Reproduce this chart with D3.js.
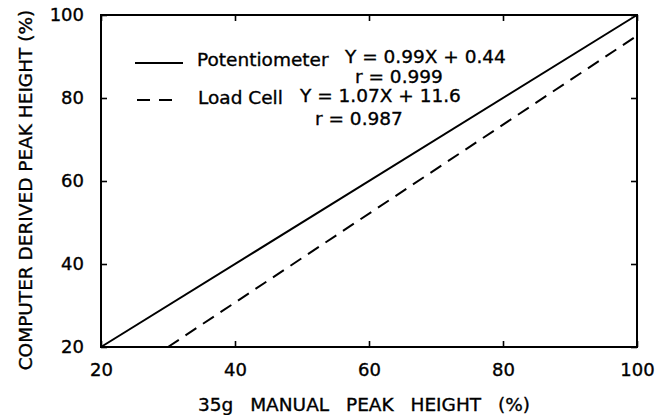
<!DOCTYPE html>
<html>
<head>
<meta charset="utf-8">
<script src="https://cdn.jsdelivr.net/npm/d3@7"></script>
<style>
    body { margin: 0; background: #fff; }
    svg { display: block; font-family: "DejaVu Sans", sans-serif; }
    text { stroke: #000; stroke-width: 0.35px; }
</style>
</head>
<body>
<svg id="chart" width="657" height="415"></svg>
<script>
// regression lines as drawn (x = manual %, y = computer %)
const potX = [20, 100];
const potY = [20, 100];
const loadX = [30, 100];
const loadY = [20, 95];

const xTicks = [20, 40, 60, 80, 100];
const yTicks = [20, 40, 60, 80, 100];

const seriesNames = ["Potentiometer", "Load Cell"];
const equations = ["Y = 0.99X + 0.44", "Y = 1.07X + 11.6"];
const rValues = ["r = 0.999", "r = 0.987"];

const margin = { top: 15, right: 20, bottom: 68, left: 101 };
const width = 657, height = 415;

const svg = d3.select("#chart");

const x = d3.scaleLinear().domain([20, 100]).range([margin.left, width - margin.right]);
const y = d3.scaleLinear().domain([20, 100]).range([height - margin.bottom, margin.top]);

// frame
svg.append("rect")
    .attr("x", x(20))
    .attr("y", y(100))
    .attr("width", x(100) - x(20))
    .attr("height", y(20) - y(100))
    .attr("fill", "none")
    .attr("stroke", "#000")
    .attr("stroke-width", 2);

// axes with inward ticks
const styleAxis = (g) => {
    g.select(".domain").remove();
    g.selectAll(".tick line").attr("stroke", "#000").attr("stroke-width", 1.6);
};

svg.append("g")
    .attr("transform", `translate(0,${y(20)})`)
    .call(d3.axisBottom(x).tickValues(xTicks).tickSize(-6).tickPadding(16).tickFormat(d3.format("d")))
    .call(styleAxis)
    .selectAll("text")
    .attr("font-size", 18)
    .attr("fill", "#000")
    .attr("font-family", "DejaVu Sans");

svg.append("g")
    .attr("transform", `translate(${x(20)},0)`)
    .call(d3.axisLeft(y).tickValues(yTicks).tickSize(-6).tickPadding(17).tickFormat(d3.format("d")))
    .call(styleAxis)
    .selectAll("text")
    .attr("font-size", 18)
    .attr("fill", "#000")
    .attr("font-family", "DejaVu Sans");

svg.append("g")
    .attr("transform", `translate(0,${y(100)})`)
    .call(d3.axisTop(x).tickValues(xTicks).tickSize(-6).tickFormat(""))
    .call(styleAxis);

svg.append("g")
    .attr("transform", `translate(${x(100)},0)`)
    .call(d3.axisRight(y).tickValues(yTicks).tickSize(-6).tickFormat(""))
    .call(styleAxis);

// lines
const line = d3.line().x((d) => x(d[0])).y((d) => y(d[1]));

svg.append("path")
    .datum(d3.zip(potX, potY))
    .attr("d", line)
    .attr("fill", "none")
    .attr("stroke", "#000")
    .attr("stroke-width", 2);

svg.append("path")
    .datum(d3.zip(loadX, loadY))
    .attr("d", line)
    .attr("fill", "none")
    .attr("stroke", "#000")
    .attr("stroke-width", 2)
    .attr("stroke-dasharray", "13,8");

// legend
const legend = svg.append("g").attr("font-size", 18.5).attr("fill", "#000");

legend.append("line")
    .attr("x1", 135).attr("x2", 183).attr("y1", 63).attr("y2", 63)
    .attr("stroke", "#000").attr("stroke-width", 2);
legend.append("text").attr("x", 197).attr("y", 66).text(seriesNames[0]);
legend.append("text").attr("x", 345).attr("y", 63).text(equations[0]);
legend.append("text").attr("x", 355).attr("y", 83).text(rValues[0]);

legend.append("line")
    .attr("x1", 137).attr("x2", 172).attr("y1", 100).attr("y2", 100)
    .attr("stroke", "#000").attr("stroke-width", 2)
    .attr("stroke-dasharray", "13,9");
legend.append("text").attr("x", 198).attr("y", 104).text(seriesNames[1]);
legend.append("text").attr("x", 300).attr("y", 102).text(equations[1]);
legend.append("text").attr("x", 315).attr("y", 125).text(rValues[1]);

// axis titles
svg.append("text")
    .attr("x", 364)
    .attr("y", 411)
    .attr("text-anchor", "middle")
    .attr("font-size", 18.5)
    .attr("word-spacing", 11)
    .text("35g MANUAL PEAK HEIGHT (%)");

svg.append("text")
    .attr("transform", "translate(32,190) rotate(-90)")
    .attr("text-anchor", "middle")
    .attr("font-size", 18.5)
    .text("COMPUTER DERIVED PEAK HEIGHT (%)");
</script>
</body>
</html>
